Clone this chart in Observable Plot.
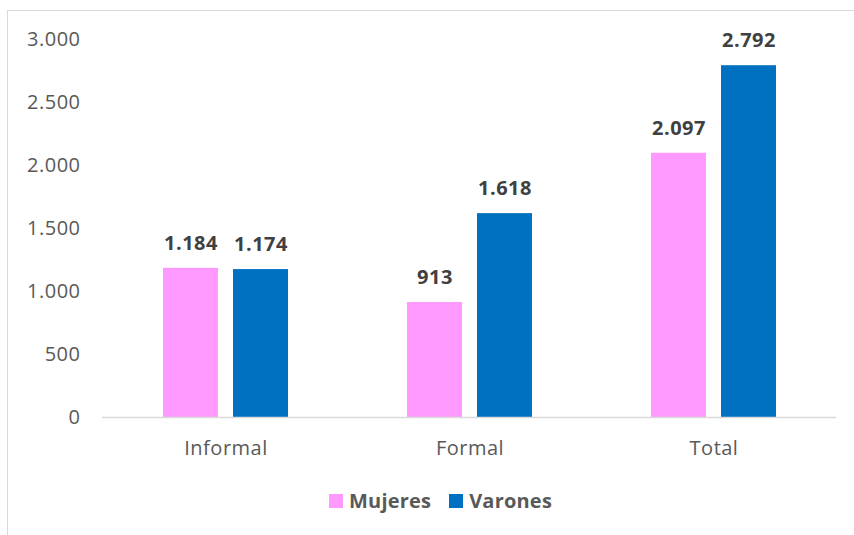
<!DOCTYPE html>
<html>
<head>
<meta charset="utf-8">
<script src="https://cdn.jsdelivr.net/npm/d3@7"></script>
<script src="https://cdn.jsdelivr.net/npm/@observablehq/plot@0.6"></script>
<style>
  body { margin: 0; background: #fff; font-family: "Open Sans", sans-serif; }
  #wrap { position: relative; width: 854px; height: 535px; overflow: hidden; }
  #frame { position: absolute; left: 7px; top: 10px; width: 900px; height: 600px;
           border-top: 1.5px solid #d9d9d9; border-left: 1.5px solid #d9d9d9; }
  #chart { position: absolute; left: 0; top: 0; }
  #chart svg text { letter-spacing: 0.5px; }
  #legend { position: absolute; left: 329px; top: 488px; display: flex; align-items: center;
            font-weight: bold; font-size: 20px; color: #595959; line-height: 26px; letter-spacing: 0.2px; }
  .item { display: flex; align-items: center; margin-right: 18px; }
  .sw { width: 14px; height: 14px; margin-right: 6px; }
</style>
</head>
<body>
<div id="wrap">
  <div id="frame"></div>
  <div id="chart"></div>
  <div id="legend"></div>
</div>
<script>
const categories = ["Informal", "Formal", "Total"];
const series = ["Mujeres", "Varones"];
const mujeres = [1184, 913, 2097];
const varones = [1174, 1618, 2792];
const colors = ["#FF99FF", "#0070C0"];
const yTicks = [0, 500, 1000, 1500, 2000, 2500, 3000];

const fmt = d3.formatLocale({decimal: ",", thousands: ".", grouping: [3], currency: ["$", ""]}).format(",d");

const dataM = categories.map((c, i) => ({cat: c, sex: series[0], value: mujeres[i]}));
const dataV = categories.map((c, i) => ({cat: c, sex: series[1], value: varones[i]}));

const chart = Plot.plot({
  width: 854,
  height: 470,
  marginTop: 39,
  marginBottom: 53,
  marginLeft: 102,
  marginRight: 18,
  style: {fontFamily: "Open Sans, sans-serif", fontSize: "20px", color: "#595959", background: "transparent"},
  x: {domain: categories, paddingInner: 0.489, paddingOuter: 0.2445, label: null, tickSize: 0, tickPadding: 23},
  y: {domain: [0, 3000], ticks: yTicks, tickFormat: fmt, label: null, tickSize: 0, tickPadding: 22},
  color: {domain: series, range: colors},
  marks: [
    Plot.barY(dataM, {x: "cat", y: "value", fill: "sex", insetRight: 70}),
    Plot.barY(dataV, {x: "cat", y: "value", fill: "sex", insetLeft: 70}),
    Plot.ruleY([0], {stroke: "#d9d9d9", strokeWidth: 1.5}),
    Plot.text(dataM, {x: "cat", y: "value", text: d => fmt(d.value), dx: -35, dy: -25, fontWeight: "bold", fontSize: 20, fill: "#404040"}),
    Plot.text(dataV, {x: "cat", y: "value", text: d => fmt(d.value), dx: 35, dy: -25, fontWeight: "bold", fontSize: 20, fill: "#404040"})
  ]
});
document.getElementById("chart").appendChild(chart);

const legend = document.getElementById("legend");
series.forEach((s, i) => {
  const item = document.createElement("div");
  item.className = "item";
  const sw = document.createElement("span");
  sw.className = "sw";
  sw.style.background = colors[i];
  const t = document.createElement("span");
  t.textContent = s;
  item.appendChild(sw);
  item.appendChild(t);
  legend.appendChild(item);
});
</script>
</body>
</html>
